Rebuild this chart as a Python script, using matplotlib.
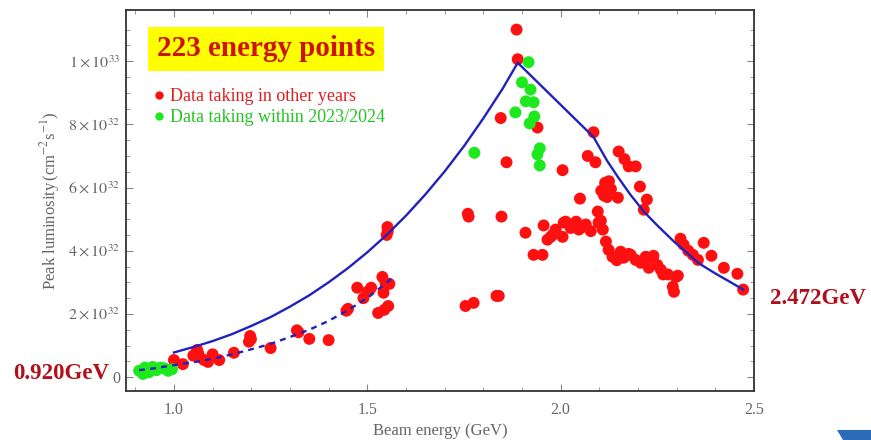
import matplotlib
matplotlib.use('Agg')
import matplotlib.pyplot as plt
from matplotlib.lines import Line2D
from matplotlib.patches import Polygon

# luminosity values are in units of 1e32 cm^-2 s^-1
red_e = [1.000, 1.023, 1.050, 1.060, 1.067, 1.062, 1.078, 1.088, 1.100, 1.117,
         1.155, 1.194, 1.197, 1.199, 1.250, 1.318, 1.322, 1.350, 1.400, 1.446,
         1.450, 1.474, 1.490, 1.500, 1.510, 1.539, 1.547, 1.557, 1.542, 1.528,
         1.544, 1.554, 1.552, 1.550, 1.553,
         1.886, 1.889, 1.845, 1.860, 1.940, 1.760, 1.762, 1.847, 2.005, 1.754,
         1.775, 1.834, 1.840,
         1.909, 1.930, 1.953, 1.956, 1.966, 1.974, 1.980, 1.987, 2.005, 2.008,
         2.013, 2.026, 2.040, 2.047, 2.060, 2.065, 2.078, 2.098, 2.104, 2.109,
         2.096, 2.050, 2.117, 2.124, 2.134, 2.155, 2.163, 2.145, 2.176, 2.181,
         2.194, 2.207, 2.220, 2.238, 2.228, 2.240, 2.250, 2.259, 2.265, 2.277,
         2.298, 2.303, 2.290, 2.293,
         2.085, 2.070, 2.090, 2.150, 2.165, 2.176, 2.194, 2.105, 2.115, 2.125,
         2.130, 2.112, 2.120, 2.148, 2.205, 2.223, 2.215, 2.310, 2.318, 2.330,
         2.342, 2.355, 2.370, 2.390, 2.422, 2.457, 2.472]
red_lum = [0.54, 0.41, 0.68, 0.86, 0.63, 0.78, 0.54, 0.48, 0.72, 0.54,
           0.77, 1.12, 1.30, 1.20, 0.92, 1.48, 1.42, 1.21, 1.17, 2.10,
           2.16, 2.83, 2.50, 2.70, 2.83, 3.17, 2.98, 2.95, 2.67, 2.03,
           2.13, 2.25, 4.75, 4.50, 4.62,
           11.0, 10.06, 8.20, 6.80, 7.90, 5.17, 5.08, 5.08, 6.55, 2.25,
           2.35, 2.57, 2.57,
           4.57, 3.87, 3.87, 4.80, 4.35, 4.44, 4.51, 4.67, 4.44, 4.89,
           4.92, 4.72, 4.92, 4.67, 4.76, 4.83, 4.62, 4.89, 4.95, 4.67,
           5.24, 5.65, 4.29, 4.03, 3.81, 3.97, 3.78, 3.70, 3.90, 3.87,
           3.71, 3.62, 3.81, 3.80, 3.46, 3.84, 3.55, 3.40, 3.25, 3.25,
           3.17, 3.21, 2.86, 2.70,
           7.75, 7.00, 6.80, 7.14, 6.90, 6.67, 6.67, 5.90, 6.15, 6.20,
           5.95, 5.75, 5.70, 5.68, 6.03, 5.62, 5.30, 4.38, 4.19, 4.00,
           3.87, 3.71, 4.25, 3.84, 3.46, 3.27, 2.77]

green_e = [0.910, 0.920, 0.925, 0.935, 0.945, 0.955, 0.965, 0.975, 0.985, 0.995,
           1.777, 1.917, 1.900, 1.922, 1.910, 1.930, 1.883, 1.932, 1.920, 1.946,
           1.940, 1.946]
green_lum = [0.20, 0.10, 0.30, 0.15, 0.32, 0.22, 0.30, 0.28, 0.20, 0.25,
             7.10, 9.97, 9.33, 9.10, 8.73, 8.70, 8.38, 8.25, 8.03, 7.24,
             7.05, 6.70]

# design luminosity curve
design_e = [1.00, 1.05, 1.10, 1.15, 1.20, 1.25, 1.30, 1.35, 1.40, 1.45,
            1.50, 1.55, 1.60, 1.65, 1.70, 1.75, 1.80, 1.85, 1.889,
            2.085, 2.12, 2.15, 2.18, 2.215, 2.25, 2.293, 2.33, 2.355, 2.40,
            2.44, 2.472]
design_lum = [0.78, 0.95, 1.14, 1.36, 1.62, 1.90, 2.23, 2.59, 3.00, 3.45,
              3.95, 4.50, 5.11, 5.78, 6.51, 7.31, 8.19, 9.13, 9.95,
              7.60, 6.85, 6.30, 5.78, 5.24, 4.80, 4.29, 3.90, 3.62, 3.28,
              3.00, 2.77]

# low energy trend
low_e = [0.91, 0.95, 1.00, 1.05, 1.10, 1.15, 1.20, 1.25, 1.30, 1.35,
         1.40, 1.45, 1.50, 1.565]
low_lum = [0.22, 0.28, 0.38, 0.47, 0.58, 0.72, 0.88, 1.05, 1.27, 1.50,
           1.78, 2.12, 2.50, 3.14]

y_ticks = [0, 2, 4, 6, 8, 10]
y_tick_labels = ['0', r'$2\times10^{32}$', r'$4\times10^{32}$', r'$6\times10^{32}$',
                 r'$8\times10^{32}$', r'$1\times10^{33}$']
x_ticks = [1.0, 1.5, 2.0, 2.5]
x_tick_labels = ['1.0', '1.5', '2.0', '2.5']

plt.rcParams['font.family'] = 'serif'
plt.rcParams['font.serif'] = ['Liberation Serif', 'DejaVu Serif']
plt.rcParams['mathtext.fontset'] = 'stix'

RED = '#ff1010'
GREEN = '#1ee81e'
BLUE = '#2222bb'
GRAY = '#666666'

fig = plt.figure(figsize=(8.71, 4.40), dpi=100)
ax = fig.add_axes([126 / 871, 1 - 391 / 440, 628 / 871, 381 / 440])

ax.scatter(red_e, red_lum, s=74, color=RED, edgecolors='none', zorder=2)
ax.scatter(green_e, green_lum, s=74, color=GREEN, edgecolors='none', zorder=3)
ax.plot(design_e, design_lum, color=BLUE, lw=1.7, zorder=4)
ax.plot(low_e, low_lum, color=BLUE, lw=1.7, ls=(0, (2.5, 2.2)), zorder=4)

ax.set_xlim(0.876, 2.5)
ax.set_ylim(-0.44, 11.62)
ax.set_xticks(x_ticks)
ax.set_xticklabels(x_tick_labels)
ax.set_xticks([0.9 + 0.1 * i for i in range(16)], minor=True)
ax.set_yticks(y_ticks)
ax.set_yticklabels(y_tick_labels)
ax.set_yticks([0.5 * i for i in range(23)], minor=True)
ax.tick_params(which='both', direction='in', top=True, right=True,
               colors='#888888', labelcolor=GRAY, labelsize=11.5)
ax.tick_params(which='major', length=5, width=0.8)
ax.tick_params(which='minor', length=3, width=0.6)
ax.tick_params(axis='x', pad=8)
ax.tick_params(axis='y', pad=4)
for sp in ax.spines.values():
    sp.set_color('#333333')
    sp.set_linewidth(1.3)

ax.set_xlabel('Beam energy (GeV)', color=GRAY, fontsize=12, va='center')
ax.xaxis.set_label_coords(0.5, -0.106)
ax.set_ylabel(r'Peak luminosity$\,$(cm$^{-2}$s$^{-1}$)', color=GRAY, fontsize=12,
              va='center')
ax.yaxis.set_label_coords(-0.121, 0.5)

ax.text(0.223, 0.898, '223 energy points', transform=ax.transAxes,
        ha='center', va='center', fontsize=21, fontweight='bold', color='#cc1400',
        bbox=dict(boxstyle='square,pad=0.3', facecolor='#ffff00', edgecolor='none'))

handles = [Line2D([], [], ls='none', marker='o', ms=5, color=RED),
           Line2D([], [], ls='none', marker='o', ms=5, color=GREEN)]
ax.legend(handles, ['Data taking in other years', 'Data taking within 2023/2024'],
          loc='upper left', bbox_to_anchor=(0.018, 0.838), frameon=False,
          fontsize=13, handlelength=0.6, handletextpad=0.3, labelspacing=0.25,
          labelcolor=['#e02020', '#22c422'])

fig.text(13 / 871, 1 - 373 / 440, '0.920GeV', fontsize=16.5, fontweight='bold',
         color='#b0101a', va='center', ha='left')
fig.text(770 / 871, 1 - 298 / 440, '2.472GeV', fontsize=16.5, fontweight='bold',
         color='#b0101a', va='center', ha='left')

corner = [(837 / 871, 1 - 430 / 440), (1.0, 1 - 430 / 440), (1.0, 0.0), (843 / 871, 0.0)]
fig.patches.append(Polygon(corner, closed=True, transform=fig.transFigure,
                           facecolor='#2b6cb8', edgecolor='none'))

fig.savefig('out.png', dpi=100)
